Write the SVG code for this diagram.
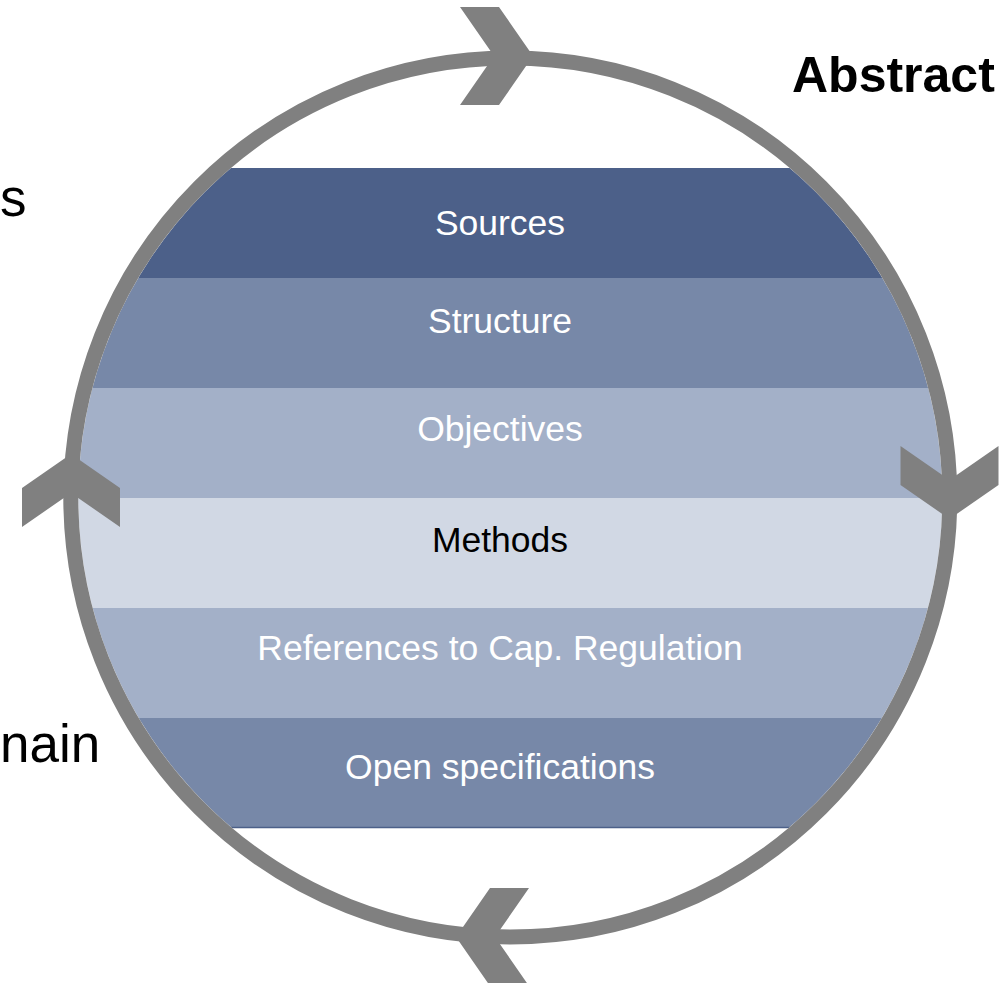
<svg xmlns="http://www.w3.org/2000/svg" width="1007" height="983" viewBox="0 0 1007 983">
  <style>
    .lbl { font-family: "Liberation Sans", Arial, sans-serif; font-size: 35.5px; text-anchor: middle; fill: #ffffff; }
    .dark { fill: #000000; }
    .side { font-family: "Liberation Sans", Arial, sans-serif; font-size: 53px; fill: #000000; }
    .title { font-family: "Liberation Sans", Arial, sans-serif; font-size: 50px; font-weight: bold; fill: #000000; }
    .ring { fill: none; stroke: #808080; stroke-width: 15; }
    .chev { fill: #808080; }
  </style>
  <defs>
    <clipPath id="disc">
      <circle cx="510.3" cy="497.5" r="432"/>
    </clipPath>
    <polygon id="chevron" points="-36.5,-49 2.5,-49 36.5,0 2.5,49 -36.5,49 -2.5,0"/>
  </defs>
  <rect x="0" y="0" width="1007" height="983" fill="#ffffff"/>

  <text class="side" x="0" y="216">s</text>
  <text class="side" x="0" y="762">nain</text>
  <text class="title" x="792" y="92">Abstract</text>

  <g clip-path="url(#disc)">
    <g id="sources">
      <rect x="0" y="168" width="1007" height="110" fill="#4c6089"/>
      <text class="lbl" x="500" y="235">Sources</text>
    </g>
    <g id="structure">
      <rect x="0" y="278" width="1007" height="110" fill="#7788a8"/>
      <text class="lbl" x="500" y="332.7">Structure</text>
    </g>
    <g id="objectives">
      <rect x="0" y="388" width="1007" height="110" fill="#a3b0c8"/>
      <text class="lbl" x="500" y="440.7">Objectives</text>
    </g>
    <g id="methods">
      <rect x="0" y="498" width="1007" height="110" fill="#d1d8e4"/>
      <text class="lbl dark" x="500" y="552.3">Methods</text>
    </g>
    <g id="references">
      <rect x="0" y="608" width="1007" height="110" fill="#a3b0c8"/>
      <text class="lbl" x="500" y="660">References to Cap. Regulation</text>
    </g>
    <g id="open-specifications">
      <rect x="0" y="718" width="1007" height="110" fill="#7788a8"/>
      <line x1="0" y1="827.5" x2="1007" y2="827.5" stroke="#4c6089" stroke-width="1.5"/>
      <text class="lbl" x="500" y="779.3">Open specifications</text>
    </g>
  </g>

  <g id="connectors">
    <circle class="ring" cx="510.3" cy="497.5" r="439.5"/>
    <use href="#chevron" class="chev" transform="translate(496.5,56)"/>
    <use href="#chevron" class="chev" transform="translate(949.5,482.5) rotate(90)"/>
    <use href="#chevron" class="chev" transform="translate(492.5,937) rotate(180)"/>
    <use href="#chevron" class="chev" transform="translate(71,490.5) rotate(-90)"/>
  </g>
</svg>
